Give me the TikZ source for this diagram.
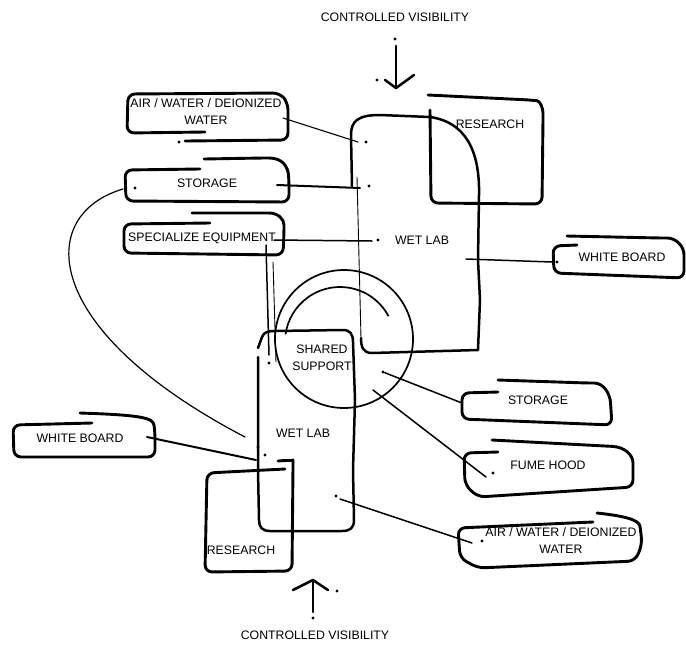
\documentclass[tikz,border=0pt]{standalone}
\usepackage{fontspec}
\setmainfont{Liberation Sans}
\begin{document}
\begin{tikzpicture}[x=1pt,y=-1pt,
  box/.style={line width=2.9pt,line cap=round,line join=round,rounded corners=7pt},
  blob/.style={line width=2.5pt,line cap=round,line join=round},
  link/.style={line width=1.5pt,line cap=round},
  hair/.style={line width=0.9pt,line cap=round},
  lbl/.style={font=\fontsize{12.3}{17}\selectfont,inner sep=0pt,align=center},
  pt/.style={circle,fill=black,inner sep=0pt,minimum size=3.4pt}]
\useasboundingbox (0,0) rectangle (686,649);

% ---------- labels ----------
\node[lbl] (cvtop) at (395,17) {CONTROLLED VISIBILITY};
\node[lbl] (cvbot) at (315,635) {CONTROLLED VISIBILITY};
\node[lbl] (airA) at (206,112) {AIR / WATER / DEIONIZED\\WATER};
\node[lbl] (storA) at (207,183) {STORAGE};
\node[lbl] (specA) at (202,238) {SPECIALIZE EQUIPMENT};
\node[lbl] (resA) at (490,124) {RESEARCH};
\node[lbl] (wetA) at (422,240) {WET LAB};
\node[lbl] (wbA) at (622,257) {WHITE BOARD};
\node[lbl] (shared) at (322,358) {SHARED\\SUPPORT};
\node[lbl] (storB) at (538,400) {STORAGE};
\node[lbl] (fume) at (548,465) {FUME HOOD};
\node[lbl] (airB) at (561,541) {AIR / WATER / DEIONIZED\\WATER};
\node[lbl] (wetB) at (303,433) {WET LAB};
\node[lbl] (wbB) at (80,438) {WHITE BOARD};
\node[lbl] (resB) at (241,550) {RESEARCH};

% ---------- left boxes ----------
\draw[box] (205,132) -- (127,133) -- (128,94) -- (280,93) -- (288,103) -- (288,140) -- (185,141);
\draw[box] (200,169) -- (125,170) -- (126,201) -- (289,202) -- (289,183)
  .. controls (288,166) and (282,158) .. (262,158) -- (204,159);
\draw[box] (210,223) -- (124,224) -- (124,253) -- (283,255) -- (284,232)
  .. controls (284,219) and (278,213) .. (262,213) -- (192,213);
% right white board
\draw[box] (577,245) -- (553,246) -- (554,273) -- (684,278) -- (684,262)
  .. controls (684,246) and (676,238) .. (660,238) -- (567,236);
% lower right boxes
\draw[box] (498,392) -- (462,393) -- (462,419) -- (612,425) -- (611,410)
  .. controls (610,394) and (604,383) .. (587,383) -- (498,380);
\draw[box] (498,452) -- (464,453) -- (465,485) -- (478,497) -- (633,487) -- (633,470)
  .. controls (633,455) and (625,447) .. (605,446) -- (492,440);
\draw[box] (593,522) -- (458,528) -- (460,558) -- (478,568) -- (635,561) -- (642,545) -- (641,533)
  .. controls (639,520) and (625,516) .. (597,513);
% left white board
\draw[box] (92,423) -- (13,425) -- (14,457) -- (155,457) -- (155,432)
  .. controls (153,418) and (142,415) .. (80,413);
% research boxes
\draw[box] (428,95) -- (530,100) .. controls (540,101) and (543,108) .. (543,120)
  -- (542,204) -- (431,203) -- (430,110);
\draw[box] (285,469) -- (207,473) -- (205,572) -- (292,571) -- (293,467)
  .. controls (293,461) and (288,460) .. (278,461);

% ---------- wet labs ----------
\draw[blob] (352,186) -- (351,135) .. controls (351,121) and (358,115) .. (380,115)
  -- (430,117) .. controls (465,122) and (480,150) .. (479,195) -- (478,260)
  -- (480,300) -- (478,350) -- (372,353) .. controls (363,353) and (361,347) .. (361,338);
\draw[hair] (357,177) -- (361,338);
\draw[blob] (258,348) -- (262,337) .. controls (264,332) and (268,331) .. (275,331)
  -- (343,330) .. controls (350,330) and (353,334) .. (353,342) -- (355,400)
  -- (353,470) -- (354,520) .. controls (354,528) and (350,531) .. (342,531)
  -- (270,531) .. controls (262,531) and (259,527) .. (259,520) -- (258,470) -- (258,357);
\draw[link] (266,245) -- (269,355);
\draw[hair] (273,262) -- (276,362);

% ---------- shared support ----------
\coordinate (cc) at (344,339);
\draw[line width=1.7pt] (cc) circle (69);
\draw[line width=1.7pt] (340,342) ++(-172:55) arc[start angle=-172,end angle=-28,radius=55];

% ---------- dots ----------
\node[pt] (dAirA) at (366,142) {};
\node[pt] (dStorA) at (369,186) {};
\node[pt] (dWetA) at (378,240) {};
\node[pt] (dAirAbox) at (179,142) {};
\node[pt] (dStorAbox) at (135,188) {};
\node[pt] (dWbA) at (557,262) {};
\node[pt] (dWbB1) at (258,447) {};
\node[pt] (dWbB2) at (265,455) {};
\node[pt] (dSh) at (383,372) {};
\node[pt] (dFume) at (493,473) {};
\node[pt] (dAirB) at (482,541) {};
\node[pt] (dWetB) at (336,496) {};
\node[pt] (dMid) at (269,363) {};

% ---------- connectors ----------
\coordinate (eAirA) at (283,118);
\coordinate (eAirAw) at (358,142);
\draw[hair,line width=1.1pt] (eAirA) -- (eAirAw);
\coordinate (eStorA) at (277,185);
\coordinate (eStorAw) at (360,188);
\draw[link,line width=2pt] (eStorA) -- (eStorAw);
\coordinate (eSpec) at (274,240);
\coordinate (eSpecw) at (372,241);
\draw[link] (eSpec) -- (eSpecw);
\coordinate (eWbA) at (466,259);
\coordinate (eWbAb) at (552,262);
\draw[link] (eWbA) -- (eWbAb);
\coordinate (eWbB) at (147,437);
\coordinate (eWbBw) at (256,460);
\draw[link,line width=2pt] (eWbB) -- (eWbBw);
\coordinate (eStorB) at (462,403);
\draw[link] (dSh) -- (eStorB);
\coordinate (eSh2) at (373,390);
\coordinate (eFume) at (486,477);
\draw[link] (eSh2) -- (eFume);
\coordinate (eWetB) at (340,499);
\coordinate (eAirB) at (472,543);
\draw[link] (eWetB) -- (eAirB);
% long curve from storage to lower wet lab
\coordinate (cStor) at (123,189);
\coordinate (cWet) at (245,437);
\draw[line width=1.2pt,line cap=round] (cStor) .. controls (35,215) and (40,330) .. (cWet);

% ---------- arrows ----------
\coordinate (aT1) at (396,46);
\coordinate (aT2) at (396,88);
\node[pt] (aTd1) at (395,39) {};
\node[pt] (aTd2) at (377,80) {};
\draw[blob] (aT1) -- (aT2);
\draw[blob] (385,80) -- (aT2) -- (414,75);
\coordinate (aB1) at (313,612);
\coordinate (aB2) at (313,580);
\node[pt] (aBd1) at (313,618) {};
\node[pt] (aBd2) at (337,591) {};
\draw[blob] (aB1) -- (aB2);
\draw[blob] (293,590) -- (aB2) -- (328,590);
\end{tikzpicture}
\end{document}
